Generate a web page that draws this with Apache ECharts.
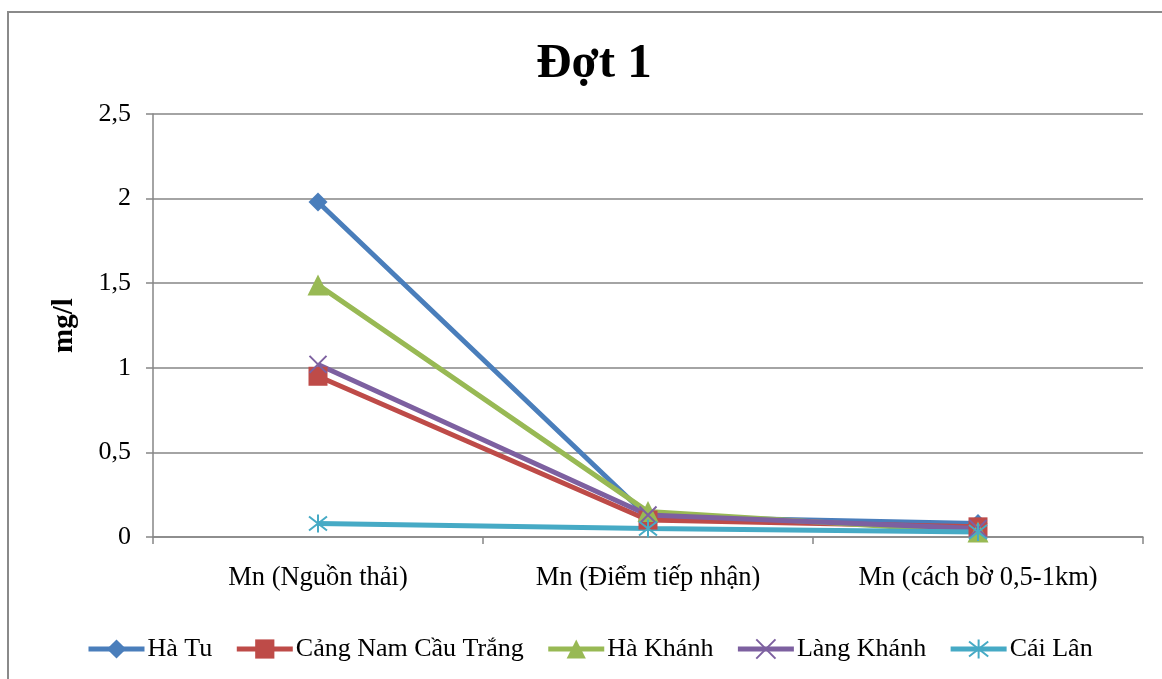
<!DOCTYPE html>
<html>
<head>
<meta charset="utf-8">
<script src="https://cdn.jsdelivr.net/npm/echarts@6/dist/echarts.min.js"></script>
<style>
  html, body { margin: 0; padding: 0; background: #fff; }
  #chart { width: 1162px; height: 679px; }
</style>
</head>
<body>
<div id="chart"></div>
<script>
// Categories along the x axis
const categories = ['Mn (Nguồn thải)', 'Mn (Điểm tiếp nhận)', 'Mn (cách bờ 0,5-1km)'];

// Mn concentration (mg/l) per sampling site
const haTu = [1.98, 0.12, 0.08];
const cangNamCauTrang = [0.95, 0.10, 0.06];
const haKhanh = [1.49, 0.15, 0.03];
const langKhanh = [1.02, 0.13, 0.05];
const caiLan = [0.08, 0.05, 0.03];

// Y axis tick values
const yTicks = [0, 0.5, 1, 1.5, 2, 2.5];

const FONT = '"Liberation Serif", "Times New Roman", serif';

const crossPath = 'path://M0,0L14,14M14,0L0,14';
const starPath = 'path://M0,0L14,14M14,0L0,14M7,-2L7,16';

function lineSeries(name, data, color, symbol, size, stroked) {
  const s = {
    name: name,
    type: 'line',
    data: data,
    symbol: symbol,
    symbolSize: size,
    showAllSymbol: true,
    lineStyle: { color: color, width: 5 },
    itemStyle: { color: color },
    emphasis: { disabled: true },
    z: 3
  };
  if (stroked) {
    s.itemStyle = { color: 'rgba(0,0,0,0)', borderColor: color, borderWidth: 2 };
  }
  return s;
}

const chart = echarts.init(document.getElementById('chart'), null, { renderer: 'canvas' });

chart.setOption({
  animation: false,
  backgroundColor: '#ffffff',
  title: {
    text: 'Đợt 1',
    left: 589,
    top: 35,
    textAlign: 'center',
    textStyle: { fontFamily: FONT, fontSize: 49, fontWeight: 'bold', color: '#000' }
  },
  graphic: [{
    type: 'rect',
    shape: { x: 8, y: 12, width: 1180, height: 700 },
    style: { fill: 'none', stroke: '#8a8a8a', lineWidth: 2 },
    silent: true,
    z: 0
  }],
  grid: { left: 153, right: 19, top: 114, bottom: 142, containLabel: false },
  legend: {
    top: 636,
    left: 86,
    padding: 0,
    itemWidth: 56,
    itemHeight: 24,
    itemGap: 22,
    lineStyle: { width: 5 },
    textStyle: { fontFamily: FONT, fontSize: 26, color: '#000', padding: [0, 0, 0, -2] },
    data: ['Hà Tu', 'Cảng Nam Cầu Trắng', 'Hà Khánh', 'Làng Khánh', 'Cái Lân']
  },
  xAxis: {
    type: 'category',
    data: categories,
    boundaryGap: true,
    axisLine: { lineStyle: { color: '#868686', width: 1.5 } },
    axisTick: { show: true, length: 7, alignWithLabel: false, lineStyle: { color: '#868686', width: 1.5 } },
    axisLabel: { fontFamily: FONT, fontSize: 26.5, color: '#000', margin: 28 }
  },
  yAxis: {
    type: 'value',
    min: yTicks[0],
    max: yTicks[yTicks.length - 1],
    interval: 0.5,
    name: 'mg/l',
    nameLocation: 'middle',
    nameGap: 74,
    nameRotate: 90,
    nameTextStyle: { fontFamily: FONT, fontSize: 29, fontWeight: 'bold', color: '#000' },
    axisLine: { show: true, lineStyle: { color: '#868686', width: 1.5 } },
    axisTick: { show: true, length: 7, lineStyle: { color: '#868686', width: 1.5 } },
    splitLine: { lineStyle: { color: '#868686', width: 1.5 } },
    axisLabel: {
      fontFamily: FONT, fontSize: 26, color: '#000', margin: 22,
      formatter: v => String(v).replace('.', ',')
    }
  },
  series: [
    lineSeries('Hà Tu', haTu, '#4A7EBB', 'diamond', 19, false),
    lineSeries('Cảng Nam Cầu Trắng', cangNamCauTrang, '#BE4B48', 'rect', 19, false),
    lineSeries('Hà Khánh', haKhanh, '#98B954', 'triangle', 21, false),
    lineSeries('Làng Khánh', langKhanh, '#7D60A0', crossPath, 17, true),
    lineSeries('Cái Lân', caiLan, '#46AAC5', starPath, 18, true)
  ]
});
</script>
</body>
</html>
